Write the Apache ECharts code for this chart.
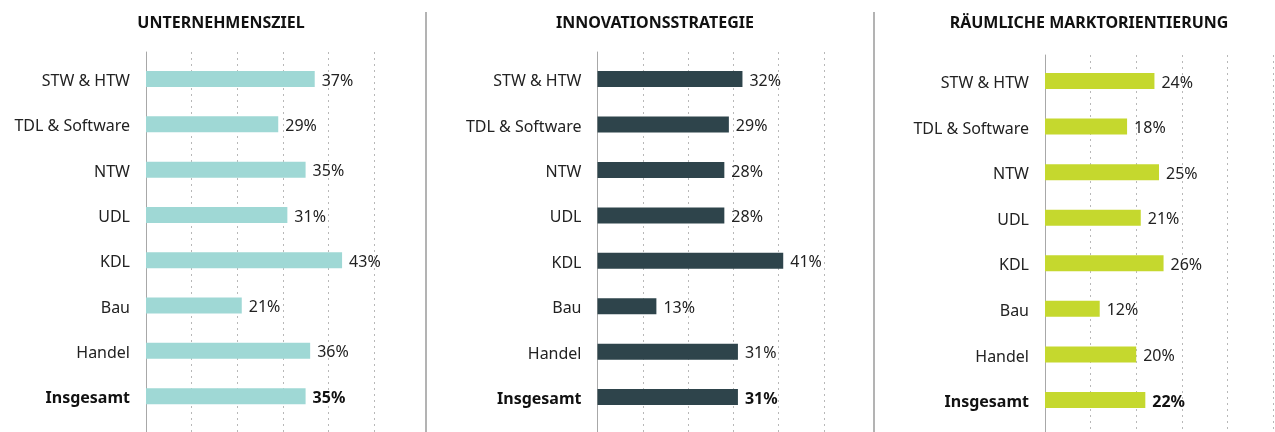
<!DOCTYPE html>
<html>
<head>
    <meta charset="utf-8" />
    <title></title>
    <script type="text/javascript" src="https://cdn.jsdelivr.net/npm/echarts@6/dist/echarts.min.js"></script>
    <style>
        html, body { margin: 0; padding: 0; background: #fff; }
        #main { width: 1275px; height: 432px; }
    </style>
</head>
<body>
    <div id="main"></div>
    <script type="text/javascript">
        var categories = ["STW & HTW", "TDL & Software", "NTW", "UDL", "KDL", "Bau", "Handel", "Insgesamt"];
        var titles = ["UNTERNEHMENSZIEL", "INNOVATIONSSTRATEGIE", "RÄUMLICHE MARKTORIENTIERUNG"];
        var zielValues = [37, 29, 35, 31, 43, 21, 36, 35];
        var innovationValues = [32, 29, 28, 28, 41, 13, 31, 31];
        var marktValues = [24, 18, 25, 21, 26, 12, 20, 22];
        var colors = ["#9fd8d5", "#2e444b", "#c5d82e"];

        var allValues = [zielValues, innovationValues, marktValues];
        // panel geometry: left edge of axis, right gap, bar grid top/height, background top
        var panels = [
            { left: 146, right: 901, top: 56.4, height: 362.4, bgTop: 52, center: 216 },
            { left: 597.5, right: 451, top: 56.4, height: 363.4, bgTop: 52, center: 650 },
            { left: 1045, right: 2, top: 58.2, height: 364.6, bgTop: 55, center: 1084 }
        ];
        var fontName = "'Noto Sans', sans-serif";

        var myChart = echarts.init(document.getElementById("main"));
        var grids = [], xAxes = [], yAxes = [], series = [], titleList = [];

        for (var i = 0; i < 3; i++) {
            var p = panels[i];
            // background grid: dotted lines + axis line, runs to the bottom
            grids.push({ left: p.left, right: p.right, top: p.bgTop, bottom: 0 });
            xAxes.push({
                gridIndex: i * 2, type: 'value', min: 0, max: 50, interval: 10,
                axisLine: { show: false }, axisTick: { show: false }, axisLabel: { show: false },
                splitLine: { show: true, lineStyle: { color: '#b8b8b8', type: [2, 4], width: 1 } }
            });
            yAxes.push({
                gridIndex: i * 2, type: 'category', data: ['x'],
                axisLine: { show: true, lineStyle: { color: '#a8a8a8', width: 1 } },
                axisTick: { show: false }, axisLabel: { show: false }, splitLine: { show: false }
            });
            // bar grid
            grids.push({ left: p.left, right: p.right, top: p.top, height: p.height });
            xAxes.push({
                gridIndex: i * 2 + 1, type: 'value', min: 0, max: 50, interval: 10, show: false,
                splitLine: { show: false }
            });
            yAxes.push({
                gridIndex: i * 2 + 1, type: 'category', data: categories, inverse: true,
                axisLine: { show: false }, axisTick: { show: false },
                axisLabel: {
                    margin: 16, fontSize: 16, color: '#222', fontFamily: fontName,
                    padding: [5, 0, 0, 0],
                    formatter: function (v) {
                        return v === 'Insgesamt' ? '{b|' + v + '}' : v;
                    },
                    rich: { b: { fontWeight: 'bold', fontSize: 16, color: '#111', fontFamily: fontName } }
                }
            });
            var vals = allValues[i];
            var items = [];
            for (var j = 0; j < vals.length; j++) {
                items.push({
                    value: vals[j],
                    label: categories[j] === 'Insgesamt' ? { fontWeight: 'bold', color: '#111' } : {}
                });
            }
            series.push({
                type: 'bar',
                xAxisIndex: i * 2 + 1,
                yAxisIndex: i * 2 + 1,
                data: items,
                barWidth: 16,
                itemStyle: { color: colors[i] },
                label: {
                    show: true, position: 'right', distance: 7, offset: [0, 2],
                    formatter: '{c}%', fontSize: 16, color: '#222', fontFamily: fontName
                },
                silent: true
            });
            titleList.push({
                text: titles[i],
                left: p.center, top: 10, textAlign: 'center',
                textStyle: { fontSize: 16, fontWeight: 'bold', color: '#111', fontFamily: fontName }
            });
        }

        var option = {
            backgroundColor: '#fff',
            animation: false,
            title: titleList,
            grid: grids,
            xAxis: xAxes,
            yAxis: yAxes,
            series: series,
            graphic: [
                { type: 'line', shape: { x1: 426, y1: 12, x2: 426, y2: 432 }, style: { stroke: '#9a9a9a', lineWidth: 1.5 } },
                { type: 'line', shape: { x1: 874, y1: 12, x2: 874, y2: 432 }, style: { stroke: '#9a9a9a', lineWidth: 1.5 } }
            ]
        };
        option && myChart.setOption(option);
    </script>
</body>
</html>
